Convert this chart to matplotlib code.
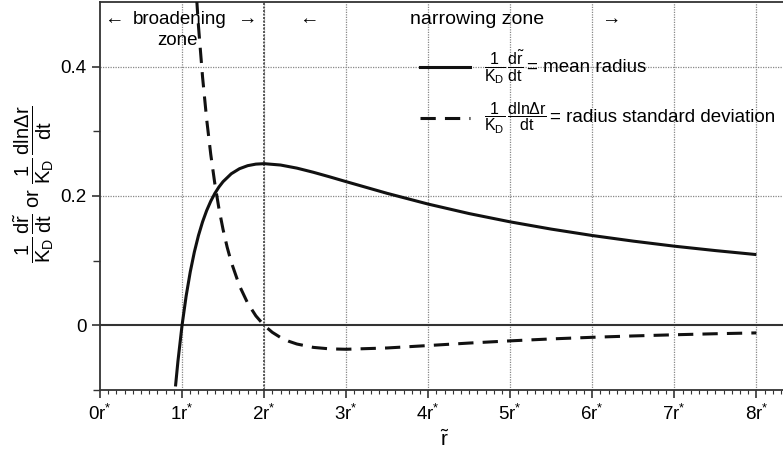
import matplotlib
matplotlib.use("Agg")
import matplotlib.pyplot as plt

plt.rcParams['font.family'] = ['Liberation Sans', 'DejaVu Sans']
plt.rcParams['mathtext.fontset'] = 'custom'
plt.rcParams['mathtext.rm'] = 'Liberation Sans'
plt.rcParams['mathtext.it'] = 'Liberation Sans'
plt.rcParams['mathtext.sf'] = 'Liberation Sans'

# mean radius growth rate
r_mean = [0.92, 0.95, 1.0, 1.05, 1.1, 1.15, 1.2, 1.25, 1.3, 1.35, 1.4, 1.45, 1.5, 1.6,
          1.7, 1.8, 1.9, 2.0, 2.2, 2.4, 2.6, 2.8, 3.0, 3.5, 4.0, 4.5, 5.0, 5.5, 6.0,
          6.5, 7.0, 7.5, 8.0]
v_mean = [-0.0945, -0.0554, 0.0, 0.0454, 0.0826, 0.1134, 0.1389, 0.1600, 0.1775, 0.1920,
          0.2041, 0.2140, 0.2222, 0.2344, 0.2422, 0.2469, 0.2493, 0.25, 0.2479, 0.2431,
          0.2367, 0.2296, 0.2222, 0.2041, 0.1875, 0.1728, 0.16, 0.1488, 0.1389, 0.1302,
          0.1224, 0.1156, 0.1094]

# radius standard deviation rate
r_std = [1.1, 1.15, 1.2, 1.25, 1.3, 1.35, 1.4, 1.45, 1.5, 1.55, 1.6, 1.7, 1.8, 1.9, 2.0,
         2.1, 2.2, 2.3, 2.4, 2.6, 2.8, 3.0, 3.5, 4.0, 4.5, 5.0, 5.5, 6.0, 6.5, 7.0, 7.5, 8.0]
v_std = [0.676, 0.559, 0.463, 0.384, 0.3186, 0.2642, 0.2187, 0.1804, 0.1481, 0.1208,
         0.0977, 0.0611, 0.0343, 0.0146, 0.0, -0.0108, -0.0188, -0.0246, -0.0289,
         -0.0341, -0.0364, -0.0370, -0.0350, -0.03125, -0.0274, -0.024, -0.0210,
         -0.0185, -0.0164, -0.0146, -0.0130, -0.0117]

xticks = [0, 1, 2, 3, 4, 5, 6, 7, 8]
xticklabels = [f"{i}r$^{{*}}$" for i in xticks]
yticks = [0, 0.2, 0.4]
yticklabels = ["0", "0.2", "0.4"]

legend_fracs = [r'$\dfrac{1}{\mathrm{K_D}}\,\dfrac{\mathrm{d\tilde{r}}}{\mathrm{dt}}$',
                r'$\dfrac{1}{\mathrm{K_D}}\,\dfrac{\mathrm{dln\Delta r}}{\mathrm{dt}}$']
legend_texts = ['= mean radius', '= radius standard deviation']

W, H = 783, 462
fig = plt.figure(figsize=(W / 100, H / 100), dpi=100)
ax = fig.add_axes([100/W, (H-390)/H, 1 - 100/W + 0.01, (390-2)/H])

ax.set_xlim(0, 8.42)
ax.set_ylim(-0.1, 0.5)

for x in xticks:
    if x == 0:
        continue
    ax.axvline(x, color='#888888', lw=0.9, ls=(0, (1, 1)), zorder=1)
ax.axvline(2, color='#555555', lw=1.4, ls=(0, (1, 0.8)), zorder=1)
for y in [0.2, 0.4]:
    ax.axhline(y, color='#888888', lw=0.9, ls=(0, (1, 1)), zorder=1)
ax.axhline(0, color='#333333', lw=1.5, zorder=2)

ax.plot(r_mean, v_mean, color='#111111', lw=2.2, zorder=3, solid_capstyle='butt')
ax.plot(r_std, v_std, color='#111111', lw=2.2, ls=(0, (5, 3)), zorder=3)

ax.set_xticks(xticks)
ax.set_xticklabels(xticklabels, fontsize=13.5)
ax.set_xticks([i / 10 for i in range(0, 85)], minor=True)
ax.set_yticks(yticks)
ax.set_yticklabels(yticklabels, fontsize=13.5)
ax.set_yticks([-0.1, 0.1, 0.3], minor=True)
ax.tick_params(axis='x', which='major', length=6, width=1.2, color='#333333', pad=4)
ax.tick_params(axis='x', which='minor', length=3, width=0.8, color='#333333')
ax.tick_params(axis='y', which='major', length=6, width=1.2, color='#333333')
ax.tick_params(axis='y', which='minor', length=5, width=1.0, color='#333333')

for s in ['left', 'bottom', 'top']:
    ax.spines[s].set_color('#333333')
    ax.spines[s].set_linewidth(1.3)
ax.spines['right'].set_visible(False)

ax.set_xlabel(r'$\tilde{\mathrm{r}}$', fontsize=15, labelpad=4)
ax.set_ylabel(r'$\dfrac{1}{\mathrm{K_D}}\,\dfrac{\mathrm{d\tilde{r}}}{\mathrm{dt}}$ or $\dfrac{1}{\mathrm{K_D}}\,\dfrac{\mathrm{dln\Delta r}}{\mathrm{dt}}$',
              fontsize=14.5)
ax.yaxis.set_label_coords(-0.064, 0.53)

# zone annotations
ax.text(0.97, 0.473, 'broadening', ha='center', va='center', fontsize=13.5, zorder=4)
ax.text(0.94, 0.440, 'zone', ha='center', va='center', fontsize=13.5, zorder=4)
ax.text(0.17, 0.473, '←', ha='center', va='center', fontsize=14)
ax.text(1.79, 0.473, '→', ha='center', va='center', fontsize=14)
ax.text(4.59, 0.473, 'narrowing zone', ha='center', va='center', fontsize=14)
ax.text(2.55, 0.473, '←', ha='center', va='center', fontsize=14)
ax.text(6.22, 0.473, '→', ha='center', va='center', fontsize=14)

# hand-made legend (pixel positions from the reference)
legend_rows_y = [67, 118]
legend_styles = ['-', (0, (5, 3))]
for yy, sty, frac, txt in zip(legend_rows_y, legend_styles, legend_fracs, legend_texts):
    fy = 1 - yy / H
    fig.add_artist(plt.Line2D([420 / W, 470 / W], [fy, fy], color='#111111', lw=2.2,
                              ls=sty))
    ft = fig.text(484 / W, fy, frac, fontsize=11.5, ha='left', va='center')
    ax.annotate(txt, xy=(1, 0.5), xycoords=ft, xytext=(2, 0),
                textcoords='offset points', ha='left', va='center', fontsize=13.5)

fig.savefig('out.png', dpi=100)
